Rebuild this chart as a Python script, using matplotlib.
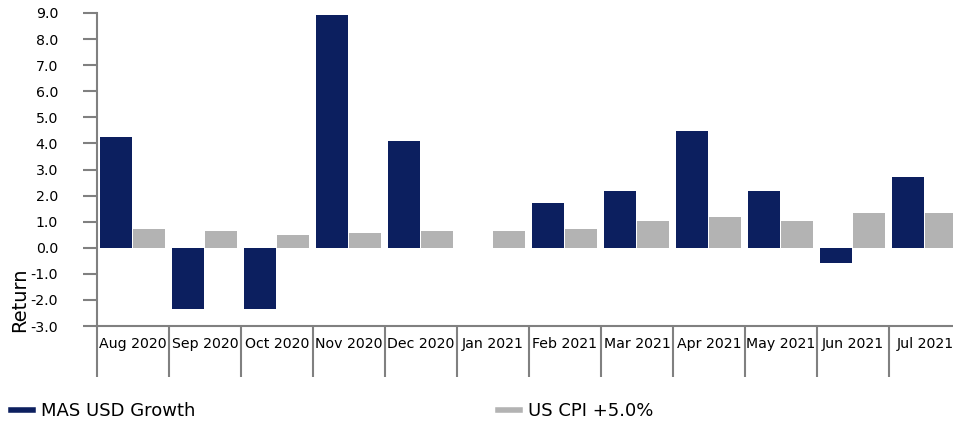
import numpy as np
import matplotlib.pyplot as plt
from matplotlib.lines import Line2D

months = ['Aug 2020', 'Sep 2020', 'Oct 2020', 'Nov 2020', 'Dec 2020', 'Jan 2021',
          'Feb 2021', 'Mar 2021', 'Apr 2021', 'May 2021', 'Jun 2021', 'Jul 2021']
mas_usd = [4.25, -2.33, -2.33, 8.93, 4.10, 0.0, 1.72, 2.18, 4.48, 2.18, -0.57, 2.72]
us_cpi = [0.73, 0.65, 0.50, 0.57, 0.65, 0.65, 0.73, 1.03, 1.19, 1.03, 1.34, 1.34]

navy = '#0c1f5f'
grey = '#b3b3b3'
spine = '#808080'

plt.rcParams['font.family'] = 'DejaVu Sans'
plt.rcParams['axes.unicode_minus'] = False

fig = plt.figure(figsize=(9.54, 4.24), dpi=100)
ax = fig.add_axes([97 / 954, 1 - 326 / 424, 864 / 954, 313 / 424])

x = np.arange(len(months))
w = 0.444
ax.bar(x - 0.236, mas_usd, width=w, color=navy)
ax.bar(x + 0.222, us_cpi, width=w, color=grey)

ax.set_xlim(-0.5, len(months) - 0.5)
ax.set_ylim(-3, 9)
ax.set_yticks(np.arange(-3, 10, 1))
ax.set_yticklabels([f'{v:.1f}' for v in np.arange(-3, 10, 1)])

ax.set_xticks(x)
ax.set_xticklabels(months)
ax.set_xticks(np.arange(len(months)) - 0.5, minor=True)
ax.tick_params(axis='x', which='major', length=0, pad=8, labelsize=10.2)
ax.tick_params(axis='x', which='minor', length=37, width=1.5, color=spine)
ax.tick_params(axis='y', length=10, width=1.5, color=spine, pad=18, labelsize=10.2)

for s in ['top', 'right']:
    ax.spines[s].set_visible(False)
for s in ['left', 'bottom']:
    ax.spines[s].set_color(spine)
    ax.spines[s].set_linewidth(1.5)

ax.set_ylabel('Return', fontsize=14)
ax.yaxis.set_label_coords(-0.078, 0.083)

h1 = [Line2D([], [], color=navy, lw=4)]
h2 = [Line2D([], [], color=grey, lw=4)]
fig.legend(h1, ['MAS USD Growth'], loc='center left', bbox_to_anchor=(-5 / 954, 0.03),
           frameon=False, fontsize=13, handlelength=1.2, handletextpad=0.45)
fig.legend(h2, ['US CPI +5.0%'], loc='center left', bbox_to_anchor=(0.505, 0.03),
           frameon=False, fontsize=13, handlelength=1.2, handletextpad=0.45)

fig.savefig('out.png', dpi=100)
